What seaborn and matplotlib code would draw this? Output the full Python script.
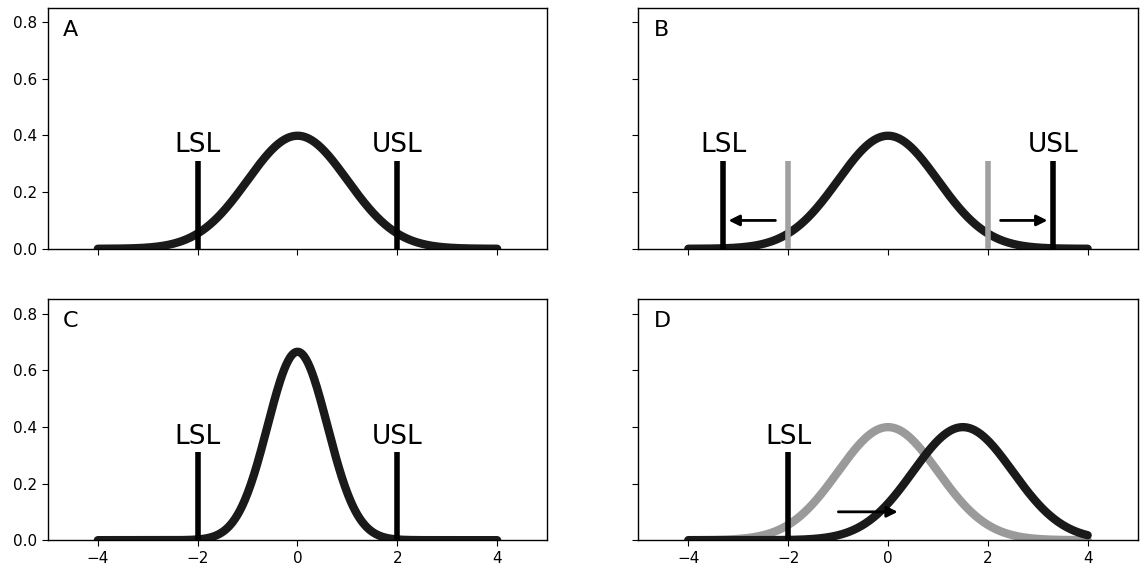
import numpy as np
import pandas as pd
import matplotlib
matplotlib.use("Agg")
import matplotlib.pyplot as plt
import seaborn as sns

# panel parameters
panels = ["A", "B", "C", "D"]
curve_means = {"A": [0.0], "B": [0.0], "C": [0.0], "D": [0.0, 1.5]}
curve_sigmas = {"A": [1.0], "B": [1.0], "C": [0.6], "D": [1.0, 1.0]}
curve_colors = {"A": ["#1a1a1a"], "B": ["#1a1a1a"], "C": ["#1a1a1a"], "D": ["#9a9a9a", "#1a1a1a"]}
limit_labels = {"A": ["LSL", "USL"], "B": ["LSL", "USL"], "C": ["LSL", "USL"], "D": ["LSL"]}
limit_pos = {"A": [-2, 2], "B": [-3.3, 3.3], "C": [-2, 2], "D": [-2]}
old_limits = {"B": [-2, 2]}
arrows = {"B": [(-2.2, -3.25), (2.2, 3.25)], "D": [(-1.05, 0.25)]}
limit_height = 0.31
arrow_y = 0.1
x_ticks = [-4, -2, 0, 2, 4]
y_ticks = [0.0, 0.2, 0.4, 0.6, 0.8]

x = np.linspace(-4, 4, 400)

sns.set_style("ticks")
plt.rcParams["text.color"] = "black"
plt.rcParams["xtick.color"] = "black"
plt.rcParams["ytick.color"] = "black"
fig, axes = plt.subplots(2, 2, figsize=(11.41, 5.68), dpi=100, sharex=True, sharey=True)
fig.subplots_adjust(left=0.042, right=0.997, top=0.986, bottom=0.049, wspace=0.183, hspace=0.21)

for ax, p in zip(axes.flat, panels):
    for mu, sd, col in zip(curve_means[p], curve_sigmas[p], curve_colors[p]):
        df = pd.DataFrame({"x": x, "y": np.exp(-0.5 * ((x - mu) / sd) ** 2) / (sd * np.sqrt(2 * np.pi))})
        sns.lineplot(data=df, x="x", y="y", ax=ax, color=col, lw=6, zorder=2)
    for xo in old_limits.get(p, []):
        ax.vlines(xo, 0, limit_height, color="#a0a0a0", lw=4, zorder=3)
    for lab, xl in zip(limit_labels[p], limit_pos[p]):
        ax.vlines(xl, 0, limit_height, color="black", lw=4, zorder=3)
        ax.text(xl, limit_height + 0.03, lab, ha="center", va="baseline", fontsize=19)
    for x0, x1 in arrows.get(p, []):
        ax.annotate("", xy=(x1, arrow_y), xytext=(x0, arrow_y),
                    arrowprops=dict(arrowstyle="-|>", color="black", lw=2, mutation_scale=16))
    ax.text(0.03, 0.95, p, transform=ax.transAxes, ha="left", va="top", fontsize=16)
    ax.set_xlim(-5, 5)
    ax.set_ylim(0, 0.85)
    ax.set_xticks(x_ticks)
    ax.set_yticks(y_ticks)
    ax.set_xlabel("")
    ax.set_ylabel("")
    ax.tick_params(labelsize=11, length=4, color="black")
    for s in ax.spines.values():
        s.set_color("black")
        s.set_linewidth(1)

fig.savefig("out.png", dpi=100)
